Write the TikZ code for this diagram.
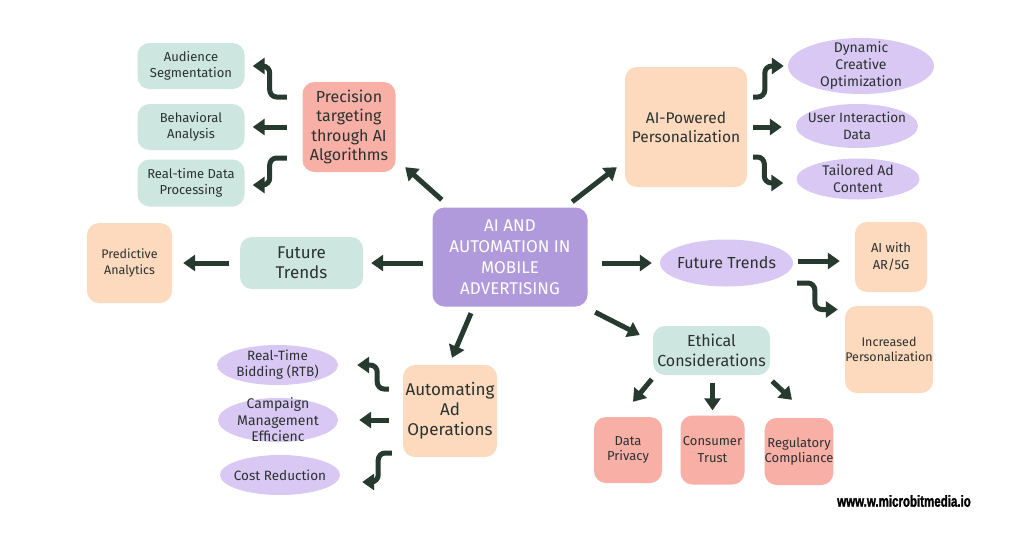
\documentclass[tikz,border=0pt]{standalone}
\usepackage{fontspec}
\setmainfont{Fira Sans}
\newfontfamily\wmfont[FakeStretch=0.72, BoldFeatures={FakeBold=1.5}]{Liberation Sans}
\usetikzlibrary{arrows.meta,shapes.geometric,calc}
\definecolor{cteal}{HTML}{CDE6DF}
\definecolor{cpink}{HTML}{F8AFA6}
\definecolor{cpeach}{HTML}{FDD9BD}
\definecolor{clav}{HTML}{D9C8F4}
\definecolor{ccenter}{HTML}{B09ADB}
\definecolor{carrow}{HTML}{263A30}
\definecolor{ctext}{HTML}{2B3230}
\newcommand{\fs}[2]{\fontsize{#1}{#2}\selectfont}
\begin{document}
\begin{tikzpicture}[x=1pt,y=-1pt,
  box/.style={rectangle, rounded corners=12pt, align=center, text=ctext, inner sep=0pt},
  tealbox/.style={box, fill=cteal},
  pinkbox/.style={box, fill=cpink},
  peachbox/.style={box, fill=cpeach},
  oval/.style={ellipse, fill=clav, inner sep=0pt},
  otext/.style={align=center, text=ctext, inner sep=0pt},
  arr/.style={draw=carrow, line width=5pt, -{Triangle[width=16pt,length=12pt]}},
  elbow/.style={arr, rounded corners=7pt},
]
\useasboundingbox[fill=white] (0,0) rectangle (1024,538);

% centre
\node[box, fill=ccenter, text=white, minimum width=155pt, minimum height=99pt, font=\fs{17}{21}] (cen) at (510,257) {AI AND\\AUTOMATION IN\\MOBILE\\ADVERTISING};

% precision cluster
\node[pinkbox, minimum width=93pt, minimum height=90pt, font=\fs{16}{19.5}] (prec) at (349,127) {Precision\\targeting\\through AI\\Algorithms};
\node[tealbox, minimum width=107pt, minimum height=46pt, font=\fs{13}{16}] (aud) at (191,66) {Audience\\Segmentation};
\node[tealbox, minimum width=107pt, minimum height=46pt, font=\fs{13}{16}] (beh) at (191,127) {Behavioral\\Analysis};
\node[tealbox, minimum width=107pt, minimum height=47pt, font=\fs{13}{16}] (rtd) at (191,183) {Real-time Data\\Processing};

% personalization cluster
\node[peachbox, minimum width=122pt, minimum height=120pt, font=\fs{15.5}{19}] (pers) at (686,127) {AI-Powered\\Personalization};
\node[oval, minimum width=146pt, minimum height=56pt] (dyn) at (861,66) {};
\node[otext, font=\fs{14}{17}] (dynT) at (dyn) {Dynamic\\Creative\\Optimization};
\node[oval, minimum width=122pt, minimum height=44pt] (user) at (857,126) {};
\node[otext, font=\fs{13.5}{17}] (userT) at (user) {User Interaction\\Data};
\node[oval, minimum width=123pt, minimum height=41pt] (tail) at (858,179) {};
\node[otext, font=\fs{14}{17}] (tailT) at (tail) {Tailored Ad\\Content};

% left future trends
\node[tealbox, minimum width=123pt, minimum height=52pt, font=\fs{17}{20}] (ftl) at (301.5,263) {Future\\Trends};
\node[peachbox, minimum width=85pt, minimum height=80pt, font=\fs{12.5}{16}] (pred) at (129.5,263) {Predictive\\Analytics};

% right future trends
\node[oval, minimum width=133pt, minimum height=47pt] (ftr) at (726.5,263) {};
\node[otext, font=\fs{16}{19}] (ftrT) at (ftr) {Future Trends};
\node[peachbox, minimum width=72pt, minimum height=70pt, font=\fs{13}{17}] (ar) at (891,257) {AI with\\AR/5G};
\node[peachbox, minimum width=88pt, minimum height=87pt, font=\fs{12.5}{15}] (inc) at (889,349.5) {Increased\\Personalization};

% ethics
\node[tealbox, minimum width=117pt, minimum height=49pt, font=\fs{16}{20}] (eth) at (711.5,350.5) {Ethical\\Considerations};
\node[pinkbox, minimum width=68pt, minimum height=66pt, font=\fs{13}{15}] (dp) at (628,450) {Data\\Privacy};
\node[pinkbox, minimum width=64pt, minimum height=69pt, font=\fs{13}{17}] (ct) at (712.5,450) {Consumer\\Trust};
\node[pinkbox, minimum width=68pt, minimum height=67pt, font=\fs{13}{15}] (rc) at (799,451.5) {Regulatory\\Compliance};

% automating
\node[peachbox, minimum width=94pt, minimum height=92pt, font=\fs{17}{20}] (auto) at (450,411) {Automating\\Ad\\Operations};
\node[oval, minimum width=121pt, minimum height=40pt] (rtb) at (277.5,365) {};
\node[otext, font=\fs{13.5}{16}] (rtbT) at (rtb) {Real-Time\\Bidding (RTB)};
\node[oval, minimum width=120pt, minimum height=44pt] (camp) at (278,420) {};
\node[otext, font=\fs{14}{16.5}] (campT) at (camp) {Campaign\\Management\\Efficienc};
\node[oval, minimum width=120pt, minimum height=40pt] (cost) at (280,475) {};
\node[otext, font=\fs{13.5}{16}] (costT) at (cost) {Cost Reduction};

% watermark
\node[font=\wmfont\bfseries\fs{16}{18}, text=black, inner sep=0pt] (wm) at (904,501) {www.w.microbitmedia.io};

% arrows from centre
\draw[arr] ($(cen.north west)+(9.5,-7.5)$) -- ($(prec.south east)+(9.5,-5)$);
\draw[arr] ($(cen.north east)+(-15.5,-5.5)$) -- ($(pers.south west)+(-8,-20)$);
\draw[arr] ($(cen.west)+(-9.5,6)$) -- ($(ftl.east)+(8,0)$);
\draw[arr] ($(cen.east)+(14.5,6)$) -- ($(ftr.west)+(-8,0)$);
\draw[arr] ($(cen.south)+(-39,6.5)$) -- ($(auto.north)+(2,-7)$);
\draw[arr] ($(cen.south east)+(7.5,5.5)$) -- ($(eth.west)+(-13,-15.5)$);

% precision arrows
\draw[elbow] ($(prec.west)+(-15.5,-30)$) -| ($(aud.east)+(25,0)$) -- ($(aud.east)+(8,0)$);
\draw[arr] ($(prec.west)+(-15.5,0)$) -- ($(beh.east)+(8,0)$);
\draw[elbow] ($(prec.west)+(-15.5,31)$) -| ($(rtd.east)+(25,2)$) -- ($(rtd.east)+(8,2)$);

% personalization arrows
\draw[elbow] ($(pers.east)+(6,-30)$) -| ($(dyn.west)+(-23,0)$) -- ($(dyn.west)+(-4,0)$);
\draw[arr] ($(pers.east)+(6,0)$) -- ($(user.west)+(-14,1)$);
\draw[elbow] ($(pers.east)+(6,30)$) -| ($(tail.west)+(-32,4)$) -- ($(tail.west)+(-13,4)$);

% future trends arrows
\draw[arr] ($(ftl.west)+(-11,0)$) -- ($(pred.east)+(11,0)$);
\draw[arr] ($(ftr.east)+(5,-2)$) -- ($(ar.west)+(-15,4)$);
\draw[elbow] ($(ftr.east)+(4,20)$) -| ($(inc.west)+(-30,-40)$) -- ($(inc.west)+(-7,-40)$);

% ethics arrows
\draw[arr] ($(eth.south west)+(-1,4)$) -- ($(dp.north)+(5,-15)$);
\draw[arr] ($(eth.south)+(1,8)$) -- ($(ct.north)+(0,-5)$);
\draw[arr] ($(eth.south east)+(2,6)$) -- ($(rc.north)+(-7,-18)$);

% automating arrows
\draw[elbow] ($(auto.west)+(-14,-22)$) -| ($(rtb.east)+(39,0)$) -- ($(rtb.east)+(19,0)$);
\draw[arr] ($(auto.west)+(-14,9)$) -- ($(camp.east)+(21,0)$);
\draw[elbow] ($(auto.west)+(-11,42)$) -| ($(cost.east)+(38,7)$) -- ($(cost.east)+(22,7)$);
\end{tikzpicture}
\end{document}
